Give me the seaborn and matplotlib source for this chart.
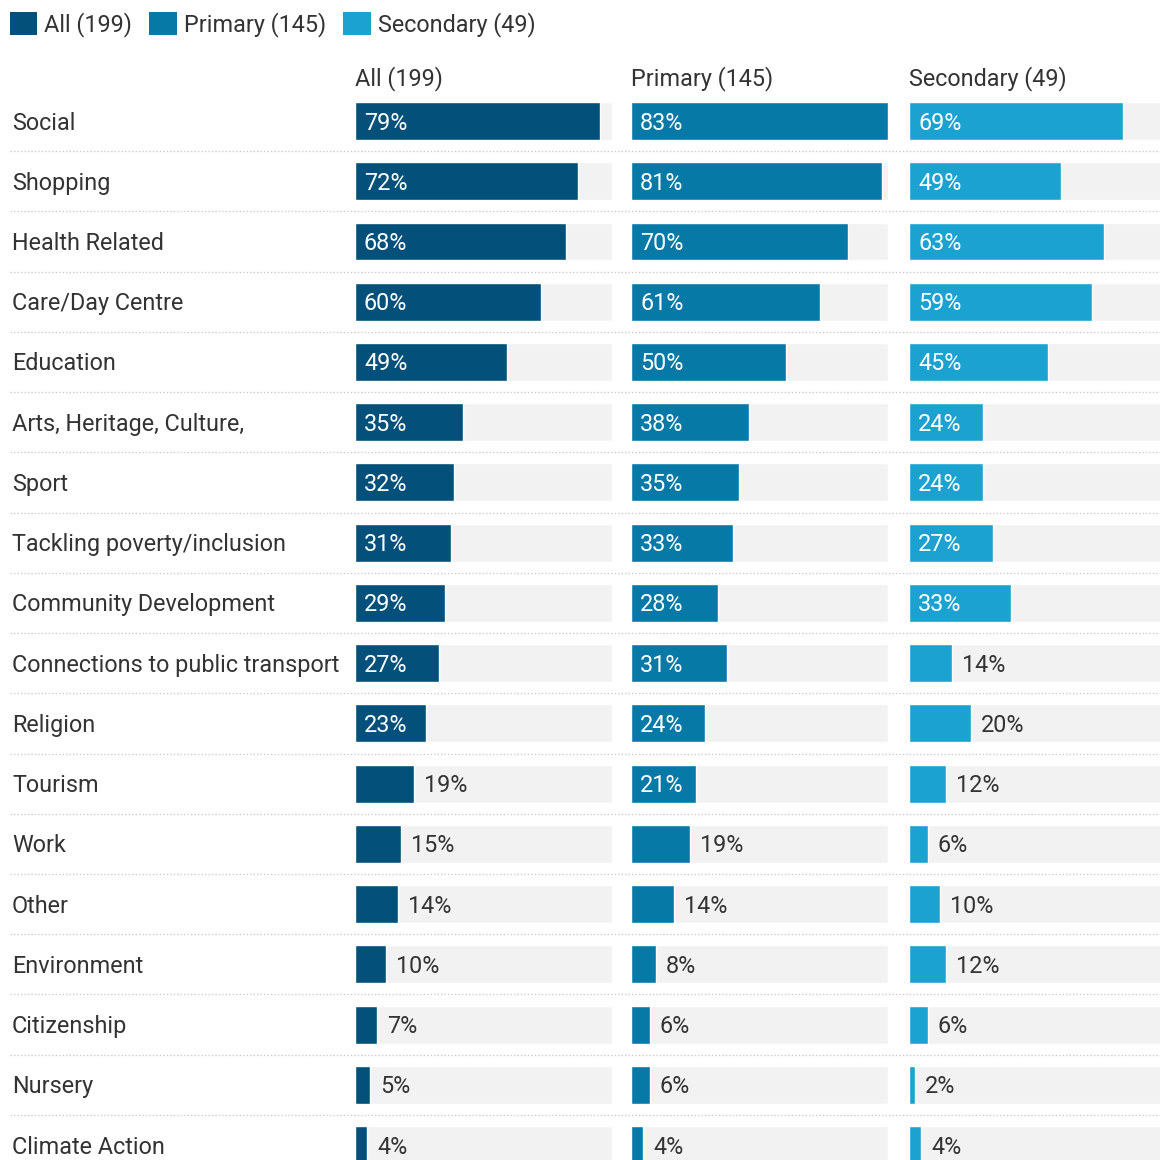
import matplotlib
matplotlib.use("Agg")
import matplotlib.pyplot as plt
import seaborn as sns
import pandas as pd
from matplotlib.patches import Patch

# Purposes of use, share of respondents (%)
categories = [
    "Social", "Shopping", "Health Related", "Care/Day Centre", "Education",
    "Arts, Heritage, Culture,", "Sport", "Tackling poverty/inclusion",
    "Community Development", "Connections to public transport", "Religion",
    "Tourism", "Work", "Other", "Environment", "Citizenship", "Nursery",
    "Climate Action",
]
all_pct = [79, 72, 68, 60, 49, 35, 32, 31, 29, 27, 23, 19, 15, 14, 10, 7, 5, 4]
primary_pct = [83, 81, 70, 61, 50, 38, 35, 33, 28, 31, 24, 21, 19, 14, 8, 6, 6, 4]
secondary_pct = [69, 49, 63, 59, 45, 24, 24, 27, 33, 14, 20, 12, 6, 10, 12, 6, 2, 4]

series_names = ["All (199)", "Primary (145)", "Secondary (49)"]
series_values = [all_pct, primary_pct, secondary_pct]
series_colors = ["#03507a", "#0779a7", "#1ca2d1"]
track_color = "#f2f2f2"
text_color = "#333333"
inside_min = 21  # values from here up are labelled inside the bar

scale_max = max(max(v) for v in series_values)

sns.set_theme(style="white")
plt.rcParams["font.family"] = ["Roboto", "DejaVu Sans"]

W = H = 1160
fig = plt.figure(figsize=(W / 100, H / 100), dpi=100)
fig.patch.set_facecolor("white")

row0 = 121.0
pitch = 60.24
top_px = row0 - pitch / 2
bottom_px = 1160.0
ylim = ((bottom_px - row0) / pitch, -0.5)
bar_h = 0.63
fs = 16.8
drop = -2  # nudge text down a little so it sits on the bar's centre line


def px_axes(left, width):
    return fig.add_axes([left / W, 1 - bottom_px / H, width / W, (bottom_px - top_px) / H])


# Row labels and dotted separators
base = px_axes(0, W)
base.set_xlim(0, W)
base.set_ylim(*ylim)
base.axis("off")
for i, cat in enumerate(categories):
    base.annotate(cat, (12, i), xytext=(0, drop), textcoords="offset pixels",
                  ha="left", va="center", fontsize=fs, color=text_color)
    if i < len(categories) - 1:
        base.plot([10, W], [i + 0.5, i + 0.5], color="#cccccc", lw=1.0,
                  ls=(0, (1, 1.5)), solid_capstyle="butt")

panel_left = [355, 631, 909]
panel_width = 257

for name, vals, col, left in zip(series_names, series_values, series_colors, panel_left):
    ax = px_axes(left, panel_width)
    ax.patch.set_alpha(0)
    df = pd.DataFrame({"category": categories, "pct": vals, "track": scale_max})
    sns.barplot(data=df, x="track", y="category", orient="h", color=track_color,
                width=bar_h, saturation=1, ax=ax)
    sns.barplot(data=df, x="pct", y="category", orient="h", color=col,
                width=bar_h, saturation=1, ax=ax)
    ax.set_xlim(0, scale_max)
    ax.set_ylim(*ylim)
    ax.axis("off")
    for i, v in enumerate(vals):
        if v >= inside_min:
            ax.annotate(f"{v}%", (0, i), xytext=(9, drop), textcoords="offset pixels",
                        ha="left", va="center", fontsize=fs, color="white")
        else:
            ax.annotate(f"{v}%", (v, i), xytext=(10, drop), textcoords="offset pixels",
                        ha="left", va="center", fontsize=fs, color=text_color)
    fig.text(left / W, 1 - 79 / H, name, ha="left", va="center", fontsize=fs,
             color=text_color)

handles = [Patch(facecolor=c, edgecolor="none") for c in series_colors]
fig.legend(handles, series_names, loc="upper left", bbox_to_anchor=(-9 / W, 1 + 7 / H),
           ncol=3, frameon=False, fontsize=fs, handlelength=1.17, handleheight=1.17,
           handletextpad=0.3, columnspacing=0.75, borderpad=0.3,
           labelcolor=text_color)

fig.savefig("out.png", dpi=100, facecolor="white")
